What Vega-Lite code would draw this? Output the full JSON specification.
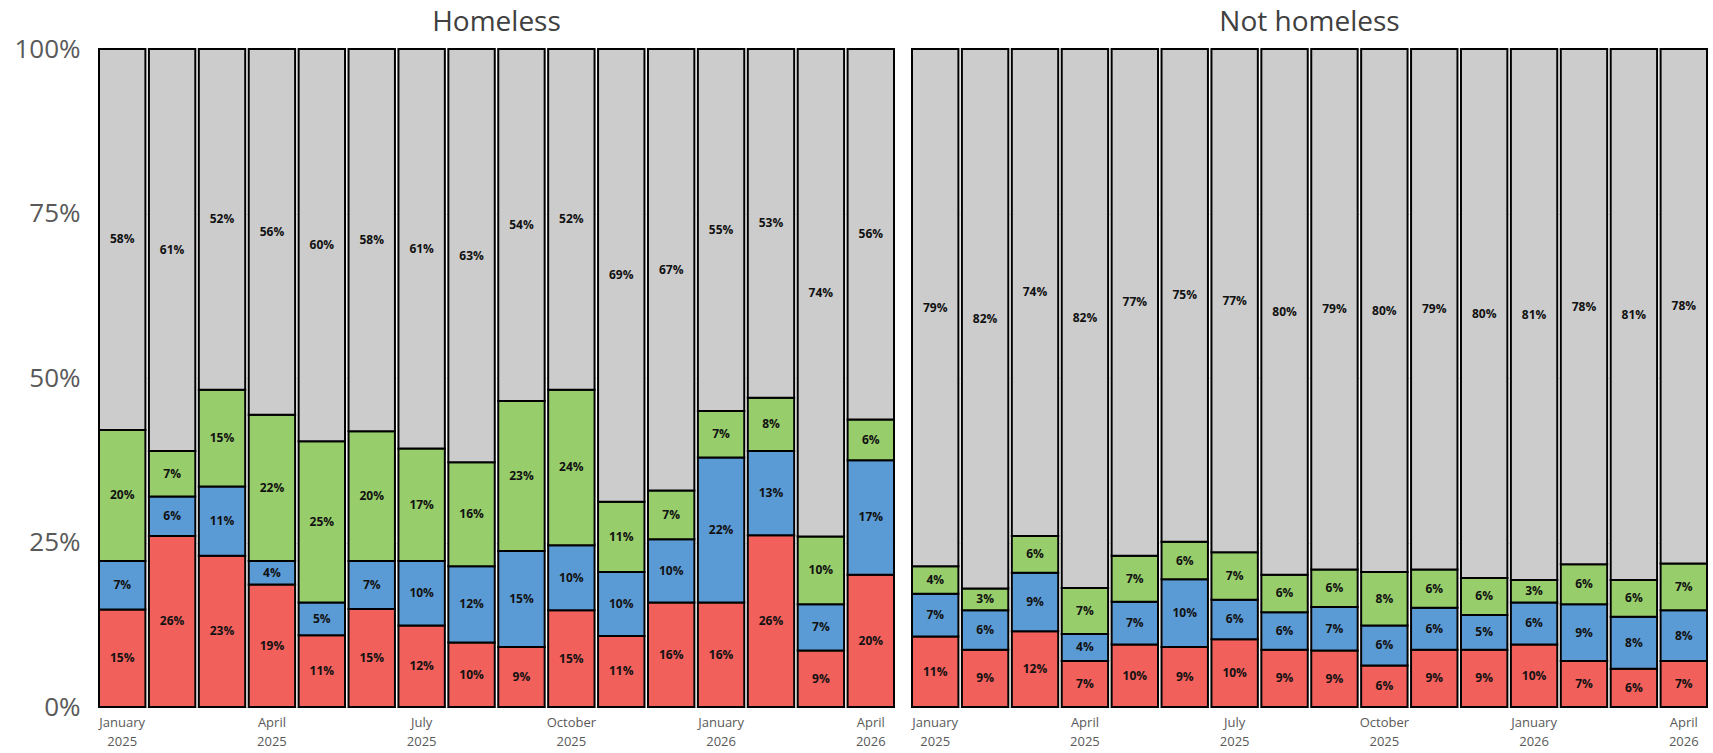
{
  "$schema": "https://vega.github.io/schema/vega-lite/v6.json",
  "padding": {"left": 13, "top": 9, "right": 0, "bottom": 0},
  "background": "white",
  "data": {"values": [
    {"g":"Homeless","m":"2025-01","c":"s1","v":0.148},{"g":"Homeless","m":"2025-01","c":"s2","v":0.074},{"g":"Homeless","m":"2025-01","c":"s3","v":0.199},{"g":"Homeless","m":"2025-01","c":"s4","v":0.579},
    {"g":"Homeless","m":"2025-02","c":"s1","v":0.260},{"g":"Homeless","m":"2025-02","c":"s2","v":0.060},{"g":"Homeless","m":"2025-02","c":"s3","v":0.069},{"g":"Homeless","m":"2025-02","c":"s4","v":0.611},
    {"g":"Homeless","m":"2025-03","c":"s1","v":0.230},{"g":"Homeless","m":"2025-03","c":"s2","v":0.105},{"g":"Homeless","m":"2025-03","c":"s3","v":0.147},{"g":"Homeless","m":"2025-03","c":"s4","v":0.518},
    {"g":"Homeless","m":"2025-04","c":"s1","v":0.186},{"g":"Homeless","m":"2025-04","c":"s2","v":0.036},{"g":"Homeless","m":"2025-04","c":"s3","v":0.222},{"g":"Homeless","m":"2025-04","c":"s4","v":0.556},
    {"g":"Homeless","m":"2025-05","c":"s1","v":0.109},{"g":"Homeless","m":"2025-05","c":"s2","v":0.050},{"g":"Homeless","m":"2025-05","c":"s3","v":0.245},{"g":"Homeless","m":"2025-05","c":"s4","v":0.596},
    {"g":"Homeless","m":"2025-06","c":"s1","v":0.149},{"g":"Homeless","m":"2025-06","c":"s2","v":0.073},{"g":"Homeless","m":"2025-06","c":"s3","v":0.197},{"g":"Homeless","m":"2025-06","c":"s4","v":0.581},
    {"g":"Homeless","m":"2025-07","c":"s1","v":0.124},{"g":"Homeless","m":"2025-07","c":"s2","v":0.098},{"g":"Homeless","m":"2025-07","c":"s3","v":0.171},{"g":"Homeless","m":"2025-07","c":"s4","v":0.607},
    {"g":"Homeless","m":"2025-08","c":"s1","v":0.098},{"g":"Homeless","m":"2025-08","c":"s2","v":0.116},{"g":"Homeless","m":"2025-08","c":"s3","v":0.158},{"g":"Homeless","m":"2025-08","c":"s4","v":0.628},
    {"g":"Homeless","m":"2025-09","c":"s1","v":0.091},{"g":"Homeless","m":"2025-09","c":"s2","v":0.146},{"g":"Homeless","m":"2025-09","c":"s3","v":0.228},{"g":"Homeless","m":"2025-09","c":"s4","v":0.535},
    {"g":"Homeless","m":"2025-10","c":"s1","v":0.147},{"g":"Homeless","m":"2025-10","c":"s2","v":0.099},{"g":"Homeless","m":"2025-10","c":"s3","v":0.236},{"g":"Homeless","m":"2025-10","c":"s4","v":0.518},
    {"g":"Homeless","m":"2025-11","c":"s1","v":0.108},{"g":"Homeless","m":"2025-11","c":"s2","v":0.097},{"g":"Homeless","m":"2025-11","c":"s3","v":0.107},{"g":"Homeless","m":"2025-11","c":"s4","v":0.688},
    {"g":"Homeless","m":"2025-12","c":"s1","v":0.159},{"g":"Homeless","m":"2025-12","c":"s2","v":0.096},{"g":"Homeless","m":"2025-12","c":"s3","v":0.074},{"g":"Homeless","m":"2025-12","c":"s4","v":0.671},
    {"g":"Homeless","m":"2026-01","c":"s1","v":0.159},{"g":"Homeless","m":"2026-01","c":"s2","v":0.220},{"g":"Homeless","m":"2026-01","c":"s3","v":0.071},{"g":"Homeless","m":"2026-01","c":"s4","v":0.550},
    {"g":"Homeless","m":"2026-02","c":"s1","v":0.261},{"g":"Homeless","m":"2026-02","c":"s2","v":0.128},{"g":"Homeless","m":"2026-02","c":"s3","v":0.081},{"g":"Homeless","m":"2026-02","c":"s4","v":0.530},
    {"g":"Homeless","m":"2026-03","c":"s1","v":0.086},{"g":"Homeless","m":"2026-03","c":"s2","v":0.070},{"g":"Homeless","m":"2026-03","c":"s3","v":0.103},{"g":"Homeless","m":"2026-03","c":"s4","v":0.741},
    {"g":"Homeless","m":"2026-04","c":"s1","v":0.201},{"g":"Homeless","m":"2026-04","c":"s2","v":0.174},{"g":"Homeless","m":"2026-04","c":"s3","v":0.062},{"g":"Homeless","m":"2026-04","c":"s4","v":0.563},
    {"g":"Not homeless","m":"2025-01","c":"s1","v":0.107},{"g":"Not homeless","m":"2025-01","c":"s2","v":0.065},{"g":"Not homeless","m":"2025-01","c":"s3","v":0.042},{"g":"Not homeless","m":"2025-01","c":"s4","v":0.786},
    {"g":"Not homeless","m":"2025-02","c":"s1","v":0.087},{"g":"Not homeless","m":"2025-02","c":"s2","v":0.060},{"g":"Not homeless","m":"2025-02","c":"s3","v":0.033},{"g":"Not homeless","m":"2025-02","c":"s4","v":0.820},
    {"g":"Not homeless","m":"2025-03","c":"s1","v":0.115},{"g":"Not homeless","m":"2025-03","c":"s2","v":0.089},{"g":"Not homeless","m":"2025-03","c":"s3","v":0.056},{"g":"Not homeless","m":"2025-03","c":"s4","v":0.740},
    {"g":"Not homeless","m":"2025-04","c":"s1","v":0.070},{"g":"Not homeless","m":"2025-04","c":"s2","v":0.041},{"g":"Not homeless","m":"2025-04","c":"s3","v":0.070},{"g":"Not homeless","m":"2025-04","c":"s4","v":0.819},
    {"g":"Not homeless","m":"2025-05","c":"s1","v":0.095},{"g":"Not homeless","m":"2025-05","c":"s2","v":0.065},{"g":"Not homeless","m":"2025-05","c":"s3","v":0.070},{"g":"Not homeless","m":"2025-05","c":"s4","v":0.770},
    {"g":"Not homeless","m":"2025-06","c":"s1","v":0.091},{"g":"Not homeless","m":"2025-06","c":"s2","v":0.103},{"g":"Not homeless","m":"2025-06","c":"s3","v":0.057},{"g":"Not homeless","m":"2025-06","c":"s4","v":0.749},
    {"g":"Not homeless","m":"2025-07","c":"s1","v":0.103},{"g":"Not homeless","m":"2025-07","c":"s2","v":0.060},{"g":"Not homeless","m":"2025-07","c":"s3","v":0.072},{"g":"Not homeless","m":"2025-07","c":"s4","v":0.765},
    {"g":"Not homeless","m":"2025-08","c":"s1","v":0.087},{"g":"Not homeless","m":"2025-08","c":"s2","v":0.057},{"g":"Not homeless","m":"2025-08","c":"s3","v":0.057},{"g":"Not homeless","m":"2025-08","c":"s4","v":0.799},
    {"g":"Not homeless","m":"2025-09","c":"s1","v":0.086},{"g":"Not homeless","m":"2025-09","c":"s2","v":0.066},{"g":"Not homeless","m":"2025-09","c":"s3","v":0.057},{"g":"Not homeless","m":"2025-09","c":"s4","v":0.791},
    {"g":"Not homeless","m":"2025-10","c":"s1","v":0.063},{"g":"Not homeless","m":"2025-10","c":"s2","v":0.061},{"g":"Not homeless","m":"2025-10","c":"s3","v":0.081},{"g":"Not homeless","m":"2025-10","c":"s4","v":0.795},
    {"g":"Not homeless","m":"2025-11","c":"s1","v":0.087},{"g":"Not homeless","m":"2025-11","c":"s2","v":0.064},{"g":"Not homeless","m":"2025-11","c":"s3","v":0.058},{"g":"Not homeless","m":"2025-11","c":"s4","v":0.791},
    {"g":"Not homeless","m":"2025-12","c":"s1","v":0.087},{"g":"Not homeless","m":"2025-12","c":"s2","v":0.053},{"g":"Not homeless","m":"2025-12","c":"s3","v":0.056},{"g":"Not homeless","m":"2025-12","c":"s4","v":0.804},
    {"g":"Not homeless","m":"2026-01","c":"s1","v":0.095},{"g":"Not homeless","m":"2026-01","c":"s2","v":0.064},{"g":"Not homeless","m":"2026-01","c":"s3","v":0.034},{"g":"Not homeless","m":"2026-01","c":"s4","v":0.807},
    {"g":"Not homeless","m":"2026-02","c":"s1","v":0.070},{"g":"Not homeless","m":"2026-02","c":"s2","v":0.086},{"g":"Not homeless","m":"2026-02","c":"s3","v":0.061},{"g":"Not homeless","m":"2026-02","c":"s4","v":0.783},
    {"g":"Not homeless","m":"2026-03","c":"s1","v":0.058},{"g":"Not homeless","m":"2026-03","c":"s2","v":0.079},{"g":"Not homeless","m":"2026-03","c":"s3","v":0.056},{"g":"Not homeless","m":"2026-03","c":"s4","v":0.807},
    {"g":"Not homeless","m":"2026-04","c":"s1","v":0.070},{"g":"Not homeless","m":"2026-04","c":"s2","v":0.077},{"g":"Not homeless","m":"2026-04","c":"s3","v":0.071},{"g":"Not homeless","m":"2026-04","c":"s4","v":0.782}
  ]},
  "transform": [
    {"stack": "v", "groupby": ["g", "m"], "sort": [{"field": "c", "order": "ascending"}], "as": ["v0", "v1"]},
    {"calculate": "(datum.v0 + datum.v1) / 2", "as": "vmid"}
  ],
  "facet": {
    "column": {
      "field": "g",
      "type": "nominal",
      "title": null,
      "header": {"labelFontSize": 28, "labelFont": "Open Sans", "labelColor": "#404040", "labelPadding": -17, "labelBaseline": "bottom"}
    }
  },
  "spacing": 14,
  "spec": {
    "width": 797,
    "height": 658,
    "encoding": {
      "x": {
        "field": "m", "type": "ordinal", "title": null,
        "scale": {"paddingInner": 0.07, "paddingOuter": 0.02},
        "axis": {
          "labelAngle": 0, "ticks": false, "domain": false, "labelPadding": 8,
          "labelFontSize": 13, "labelFont": "Open Sans", "labelColor": "#595959", "labelLineHeight": 19,
          "labelExpr": "datum.value == '2025-01' ? ['January','2025'] : datum.value == '2025-04' ? ['April','2025'] : datum.value == '2025-07' ? ['July','2025'] : datum.value == '2025-10' ? ['October','2025'] : datum.value == '2026-01' ? ['January','2026'] : datum.value == '2026-04' ? ['April','2026'] : ''"
        }
      }
    },
    "layer": [
      {
        "mark": {"type": "bar", "stroke": "black", "strokeWidth": 2},
        "encoding": {
          "y": {
            "field": "v0", "type": "quantitative", "title": null,
            "scale": {"domain": [0, 1]},
            "axis": {"values": [0, 0.25, 0.5, 0.75, 1], "format": ".0%", "labelFontSize": 26, "labelFont": "Open Sans", "labelColor": "#595959", "labelPadding": 17, "ticks": false, "domain": false, "gridColor": "#e6e6e6"}
          },
          "y2": {"field": "v1"},
          "color": {
            "field": "c", "type": "nominal", "legend": null,
            "scale": {"domain": ["s1", "s2", "s3", "s4"], "range": ["#F2605C", "#5B9BD5", "#97CD6A", "#CCCCCC"]}
          }
        }
      },
      {
        "mark": {"type": "text", "fontSize": 12, "font": "Open Sans", "fontWeight": "bold", "color": "#111111"},
        "encoding": {
          "y": {"field": "vmid", "type": "quantitative"},
          "text": {"field": "v", "type": "quantitative", "format": ".0%"}
        }
      }
    ]
  },
  "config": {"view": {"stroke": null}}
}
